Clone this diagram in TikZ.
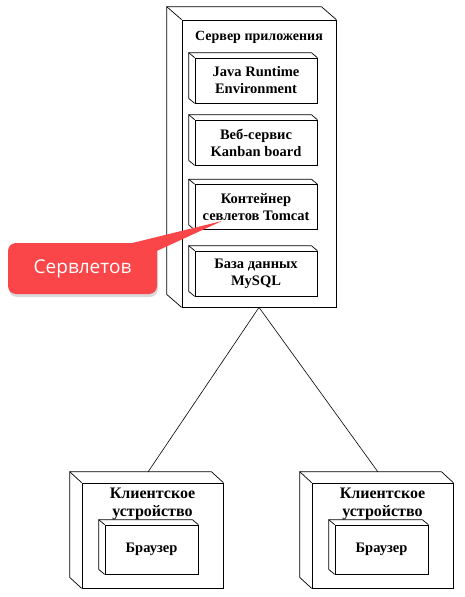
\documentclass[tikz,border=0pt]{standalone}
\usepackage{fontspec}
\setmainfont{Liberation Serif}
\newfontfamily\calloutfont{Open Sans}
\usepackage{tikz}
\usetikzlibrary{calc}
\usetikzlibrary{shadows}
\definecolor{calloutred}{RGB}{250,70,72}
\tikzstyle{deploynode} = [draw, line width=0.7pt, inner sep=0pt, fill=white]
\tikzstyle{compbox} = [deploynode, align=center,
   font=\bfseries\fontsize{14.5}{17}\selectfont]
\tikzstyle{nodetitle} = [align=center, font=\bfseries\fontsize{16}{18}\selectfont]
\tikzstyle{calloutbox} = [fill=calloutred, rounded corners=8pt, text=white,
   minimum width=149pt, minimum height=51pt, inner sep=0pt,
   font=\calloutfont\fontsize{19}{22}\selectfont,
   drop shadow={shadow xshift=1pt, shadow yshift=-3pt, opacity=0.3}]
% side and top faces of a 3d box, behind the front face #1
\newcommand{\backface}[3]{%
  \draw[line width=0.7pt] (#1.south west) -- ++(-#2,-#3)
     |- ($(#1.north east)+(-#2,-#3)$) -- (#1.north east);
  \draw[line width=0.7pt] (#1.north west) -- ++(-#2,-#3);}

\begin{document}
\begin{tikzpicture}[x=1pt,y=-1pt]
    \useasboundingbox (0,0) rectangle (465,597);
    \node[deploynode, minimum width=154pt, minimum height=287pt] (srv) at (259,163.5) {};
    \backface{srv}{15}{13}
    \node[font=\bfseries\fontsize{14}{16}\selectfont] (srvtitle) at (259,37) {Сервер приложения};
    \node[compbox, minimum width=122pt, minimum height=45pt] (jre) at (256,80.5) {Java Runtime\\Environment};
    \node[compbox, minimum width=122pt, minimum height=45pt] (kanban) at (256,142.5) {Веб-сервис\\Kanban board};
    \node[compbox, minimum width=122pt, minimum height=45pt] (tomcat) at (256,207) {Контейнер\\севлетов Tomcat};
    \node[compbox, minimum width=122pt, minimum height=45pt] (mysql) at (256,273.5) {База данных\\MySQL};
    \backface{jre}{6}{5}
    \backface{kanban}{6}{5}
    \backface{tomcat}{6}{5}
    \backface{mysql}{6}{5}

    \node[deploynode, minimum width=141pt, minimum height=105pt] (cl1) at (152.5,535.5) {};
    \backface{cl1}{12}{11}
    \node[nodetitle] (cl1title) at (152.5,504) {Клиентское\\устройство};
    \node[compbox, minimum width=93pt, minimum height=49pt] (br1) at (151.5,549.5) {Браузер};
    \backface{br1}{6}{5}

    \node[deploynode, minimum width=141pt, minimum height=105pt] (cl2) at (382.5,535.5) {};
    \backface{cl2}{12}{11}
    \node[nodetitle] (cl2title) at (382.5,504) {Клиентское\\устройство};
    \node[compbox, minimum width=93pt, minimum height=49pt] (br2) at (381.5,549.5) {Браузер};
    \backface{br2}{6}{5}

    \coordinate (cl1top) at (148,472);
    \coordinate (cl2top) at (378,472);
    \draw[line width=0.6pt] (srv.south) -- (cl1top);
    \draw[line width=0.6pt] (srv.south) -- (cl2top);

    \node[calloutbox] (servlets) at (82.5,268.5) {Сервлетов};
    \coordinate (tip) at (222,221);
    \fill[calloutred] ($(servlets.north east)+(-24,0)$) -- (tip)
       -- ($(servlets.north east)+(0,8)$) -- cycle;
\end{tikzpicture}
\end{document}
